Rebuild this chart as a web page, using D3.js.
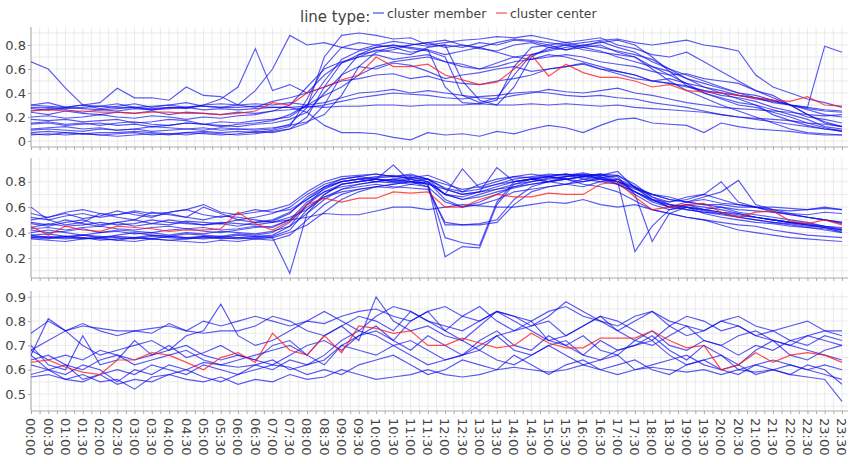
<!DOCTYPE html>
<html><head><meta charset="utf-8">
<script src="https://cdn.jsdelivr.net/npm/d3@7"></script>
<style>
body{margin:0;background:#fff}
text{font-family:"DejaVu Sans",Verdana,sans-serif}
</style></head>
<body><svg id="chart" width="850" height="464"></svg>
<script>
// ---------- data ----------
const times = ["00:00","00:30","01:00","01:30","02:00","02:30","03:00","03:30","04:00","04:30","05:00","05:30",
"06:00","06:30","07:00","07:30","08:00","08:30","09:00","09:30","10:00","10:30","11:00","11:30",
"12:00","12:30","13:00","13:30","14:00","14:30","15:00","15:30","16:00","16:30","17:00","17:30",
"18:00","18:30","19:00","19:30","20:00","20:30","21:00","21:30","22:00","22:30","23:00","23:30"];

const legendLabels = ["cluster member","cluster center"];

const yTicks1 = [0,0.2,0.4,0.6,0.8];
const yTicks2 = [0.2,0.4,0.6,0.8];
const yTicks3 = [0.5,0.6,0.7,0.8,0.9];

const center1 = [.25,.26,.25,.25,.24,.24,.23,.24, .24,.23,.23,.22,.23,.25,.32,.30, .40,.45,.51,.55,.70,.62,.62,.64, .55,.51,.47,.49,.60,.72,.54,.64, .57,.53,.53,.50,.45,.47,.42,.41, .40,.38,.36,.34,.33,.37,.30,.29];
const members1 = [
[.07,.08,.07,.06,.07,.07,.08,.07, .06,.07,.08,.07,.08,.07,.09,.12, .35,.62,.78,.82,.80,.83,.81,.79, .80,.78,.82,.80,.84,.83,.80,.82, .79,.83,.78,.74,.66,.60,.52,.45, .40,.35,.30,.22,.17,.13,.10,.08],
[.05,.06,.05,.06,.05,.04,.05,.06, .05,.07,.06,.05,.06,.08,.07,.10, .15,.30,.55,.72,.78,.80,.78,.76, .45,.32,.31,.34,.62,.78,.80,.76, .78,.80,.74,.70,.62,.55,.48,.40, .36,.32,.30,.26,.22,.18,.12,.10],
[.09,.10,.09,.08,.10,.09,.10,.08, .09,.10,.11,.09,.10,.09,.10,.14, .28,.70,.88,.90,.88,.85,.86,.80, .82,.84,.85,.87,.86,.88,.85,.82, .84,.86,.80,.77,.72,.70,.74,.66, .58,.50,.42,.36,.30,.22,.15,.12],
[.14,.15,.13,.14,.15,.13,.14,.12, .13,.15,.14,.13,.12,.14,.15,.18, .24,.40,.55,.62,.60,.65,.63,.58, .52,.55,.57,.60,.62,.58,.60,.62, .65,.60,.58,.55,.50,.48,.45,.42, .38,.36,.33,.28,.25,.20,.18,.15],
[.18,.17,.18,.16,.17,.18,.15,.16, .18,.17,.14,.16,.15,.17,.18,.20, .30,.50,.68,.75,.78,.80,.77,.75, .70,.38,.32,.36,.55,.72,.75,.78, .80,.82,.84,.80,.70,.58,.46,.40, .35,.30,.28,.24,.20,.15,.11,.08],
[.28,.28,.27,.28,.29,.28,.28,.27, .28,.28,.29,.28,.28,.29,.28,.28, .29,.28,.29,.29,.30,.30,.29,.30, .30,.30,.31,.30,.30,.31,.30,.31, .30,.29,.30,.28,.27,.26,.25,.24, .22,.20,.19,.18,.17,.15,.14,.12],
[.24,.22,.25,.23,.22,.24,.23,.25, .22,.24,.23,.22,.24,.23,.25,.26, .28,.30,.33,.36,.38,.40,.39,.38, .36,.35,.37,.38,.40,.41,.40,.38, .37,.38,.36,.35,.32,.30,.28,.25, .22,.20,.18,.16,.14,.12,.10,.09],
[.30,.32,.28,.30,.27,.29,.31,.28, .30,.32,.29,.28,.30,.31,.30,.32, .30,.32,.36,.40,.41,.43,.40,.42, .40,.38,.36,.35,.38,.40,.43,.41, .40,.42,.44,.40,.38,.35,.32,.30, .28,.27,.26,.25,.24,.22,.21,.22],
[.66,.60,.44,.30,.32,.44,.36,.36, .34,.45,.38,.37,.30,.28,.33,.36, .40,.45,.50,.52,.55,.56,.52,.54, .50,.48,.47,.50,.52,.55,.60,.62, .64,.60,.56,.52,.50,.48,.46,.42, .40,.38,.35,.33,.30,.28,.26,.25],
[.25,.27,.26,.24,.26,.25,.27,.26, .28,.27,.30,.35,.45,.77,.42,.47, .40,.55,.65,.72,.75,.78,.80,.82, .78,.80,.77,.75,.80,.82,.78,.76, .80,.78,.75,.72,.68,.60,.55,.50, .45,.40,.38,.34,.30,.27,.25,.24],
[.30,.29,.28,.30,.29,.31,.28,.29, .30,.28,.30,.31,.30,.42,.60,.88, .80,.82,.78,.76,.80,.78,.74,.76, .72,.75,.78,.74,.70,.72,.76,.80, .78,.75,.70,.66,.62,.58,.52,.48, .44,.40,.36,.32,.30,.26,.22,.20],
[.27,.26,.28,.27,.26,.27,.28,.26, .27,.28,.26,.27,.26,.27,.28,.28, .24,.13,.07,.07,.06,.03,.01,.07, .05,.06,.04,.08,.06,.10,.13,.11, .07,.13,.18,.19,.15,.14,.13,.07, .15,.12,.10,.09,.08,.06,.05,.05],
[.10,.11,.12,.10,.11,.09,.10,.12, .11,.10,.09,.11,.10,.10,.11,.13, .16,.22,.38,.62,.74,.76,.80,.82, .84,.80,.78,.82,.85,.84,.82,.80, .82,.84,.85,.82,.80,.82,.84,.80, .78,.75,.55,.45,.40,.35,.32,.28],
[.20,.21,.19,.20,.22,.20,.19,.21, .20,.18,.20,.19,.21,.22,.25,.30, .45,.60,.66,.70,.72,.68,.70,.72, .66,.62,.60,.65,.70,.68,.72,.70, .66,.62,.58,.55,.50,.52,.48,.45, .42,.38,.36,.34,.30,.28,.79,.74],
[.06,.05,.07,.06,.05,.06,.07,.05, .06,.05,.07,.06,.05,.06,.08,.10, .20,.45,.65,.70,.76,.74,.72,.78, .80,.50,.34,.30,.45,.70,.78,.80, .76,.74,.72,.70,.60,.50,.42,.36, .30,.25,.20,.15,.10,.07,.06,.05],
[.15,.16,.14,.15,.13,.15,.16,.14, .13,.15,.14,.12,.14,.15,.17,.22, .30,.38,.45,.55,.62,.66,.68,.70, .66,.64,.60,.62,.66,.68,.70,.72, .70,.66,.64,.62,.58,.55,.56,.52, .50,.48,.42,.38,.30,.22,.16,.12]
];

const center2 = [.45,.38,.45,.42,.41,.45,.44,.43, .41,.42,.42,.43,.56,.47,.42,.49, .62,.67,.64,.67,.67,.72,.71,.72, .60,.60,.66,.70,.68,.68,.71,.70, .70,.78,.80,.68,.58,.60,.62,.63, .56,.52,.56,.57,.49,.47,.50,.46];
const members2 = [
[.38,.36,.37,.35,.36,.37,.36,.38, .37,.36,.37,.35,.36,.37,.38,.45, .62,.75,.80,.82,.83,.84,.85,.82, .75,.72,.78,.82,.84,.83,.85,.86, .84,.86,.82,.72,.65,.62,.60,.58, .56,.55,.52,.50,.48,.46,.44,.42],
[.37,.36,.35,.36,.34,.35,.36,.35, .34,.35,.36,.37,.36,.35,.36,.08, .55,.70,.78,.80,.82,.80,.78,.80, .70,.66,.68,.72,.75,.78,.80,.82, .84,.85,.88,.75,.66,.60,.62,.58, .60,.56,.54,.52,.50,.48,.45,.42],
[.48,.46,.50,.47,.45,.48,.50,.47, .46,.49,.48,.47,.50,.48,.49,.55, .68,.76,.80,.82,.84,.85,.82,.78, .21,.29,.28,.62,.78,.82,.80,.84, .86,.82,.78,.70,.62,.58,.60,.55, .52,.50,.48,.47,.45,.44,.43,.41],
[.52,.50,.53,.55,.52,.54,.56,.53, .55,.52,.50,.53,.52,.50,.48,.50, .52,.55,.54,.54,.57,.60,.60,.58, .60,.62,.61,.60,.60,.62,.64,.63, .66,.62,.60,.62,.58,.55,.52,.50, .48,.46,.45,.42,.40,.38,.37,.36],
[.60,.50,.46,.48,.55,.52,.50,.56, .54,.52,.60,.55,.50,.52,.55,.60, .70,.78,.82,.84,.86,.84,.83,.85, .80,.72,.74,.78,.82,.84,.86,.85, .87,.84,.80,.75,.70,.66,.64,.62, .60,.58,.57,.56,.55,.54,.56,.55],
[.42,.40,.41,.43,.40,.42,.41,.40, .42,.43,.41,.40,.42,.44,.45,.50, .64,.72,.78,.80,.82,.93,.80,.78, .36,.32,.30,.64,.80,.82,.84,.82, .80,.83,.85,.78,.68,.62,.58,.56, .55,.53,.52,.50,.48,.47,.45,.44],
[.44,.47,.45,.46,.48,.46,.47,.50, .48,.47,.46,.48,.47,.46,.48,.52, .58,.68,.74,.76,.78,.76,.75,.74, .48,.46,.46,.48,.62,.72,.76,.78, .80,.82,.80,.76,.70,.66,.64,.62, .62,.60,.60,.58,.57,.58,.59,.58],
[.55,.52,.56,.58,.55,.54,.57,.55, .56,.58,.62,.56,.54,.56,.58,.62, .72,.80,.84,.85,.86,.84,.86,.82, .74,.70,.72,.76,.80,.82,.84,.86, .85,.83,.80,.72,.66,.64,.68,.70, .66,.62,.60,.57,.54,.52,.50,.48],
[.36,.35,.37,.36,.35,.34,.36,.35, .37,.36,.35,.36,.35,.36,.37,.42, .58,.70,.78,.80,.82,.81,.80,.79, .70,.66,.70,.74,.78,.80,.83,.84, .85,.86,.80,.25,.45,.58,.62,.60, .58,.55,.52,.50,.48,.46,.44,.40],
[.40,.42,.40,.38,.40,.41,.39,.40, .38,.40,.39,.41,.40,.39,.41,.45, .55,.66,.74,.78,.80,.79,.82,.80, .66,.60,.64,.70,.76,.80,.82,.84, .86,.85,.84,.70,.33,.55,.60,.57, .55,.52,.50,.48,.47,.45,.44,.42],
[.35,.34,.33,.35,.36,.34,.33,.35, .34,.33,.32,.34,.33,.35,.34,.38, .50,.62,.70,.74,.76,.78,.80,.78, .74,.70,.72,.74,.76,.78,.80,.82, .78,.76,.72,.65,.58,.55,.52,.50, .46,.42,.40,.38,.36,.35,.34,.33],
[.47,.45,.48,.50,.46,.48,.45,.47, .50,.48,.46,.47,.45,.48,.50,.56, .66,.74,.80,.82,.80,.82,.84,.80, .70,.68,.72,.91,.80,.82,.80,.78, .82,.84,.78,.72,.66,.60,.64,.68, .72,.81,.62,.58,.55,.52,.50,.48],
[.38,.39,.37,.38,.36,.38,.40,.38, .37,.39,.38,.37,.39,.38,.40,.48, .62,.72,.76,.78,.80,.82,.80,.76, .46,.46,.47,.50,.66,.76,.80,.82, .84,.82,.80,.74,.70,.68,.64,.66, .63,.62,.60,.60,.59,.58,.60,.58],
[.50,.52,.55,.51,.53,.57,.54,.52, .56,.58,.54,.52,.55,.58,.56,.58, .66,.76,.82,.84,.82,.80,.83,.82, .78,.74,.76,.80,.84,.86,.84,.82, .84,.86,.85,.76,.68,.64,.66,.70, .80,.64,.60,.56,.54,.52,.50,.47],
[.36,.37,.36,.38,.37,.36,.35,.37, .36,.35,.37,.36,.38,.37,.36,.40, .46,.56,.66,.72,.76,.78,.80,.82, .70,.90,.75,.78,.80,.82,.84,.86, .82,.80,.78,.72,.64,.60,.58,.56, .54,.52,.50,.48,.46,.44,.42,.40],
[.43,.44,.42,.44,.45,.43,.42,.44, .45,.43,.44,.42,.43,.45,.44,.50, .60,.68,.72,.74,.76,.75,.78,.76, .64,.60,.62,.66,.72,.74,.76,.78, .76,.80,.82,.76,.66,.62,.60,.58, .56,.54,.52,.50,.48,.46,.45,.43]
];

const center3 = [.63,.64,.61,.59,.58,.64,.64,.67, .66,.63,.60,.65,.67,.63,.75,.68, .66,.74,.67,.78,.77,.75,.76,.70, .70,.73,.71,.69,.70,.75,.71,.69, .69,.73,.73,.73,.76,.72,.69,.70, .60,.62,.67,.63,.66,.67,.66,.63];
const members3 = [
[.75,.80,.76,.78,.77,.76,.76,.77, .78,.76,.80,.78,.80,.82,.80,.78, .80,.79,.82,.84,.85,.82,.80,.84, .86,.82,.80,.84,.82,.80,.84,.86, .82,.80,.78,.82,.84,.80,.78,.76, .80,.82,.78,.76,.78,.80,.76,.74],
[.70,.62,.60,.74,.62,.64,.72,.66, .70,.65,.67,.70,.66,.64,.70,.72, .66,.62,.70,.74,.78,.72,.68,.74, .70,.66,.72,.76,.70,.68,.74,.70, .66,.72,.68,.70,.74,.68,.64,.70, .66,.62,.68,.72,.66,.64,.68,.70],
[.57,.58,.56,.55,.58,.54,.56,.55, .58,.56,.55,.57,.54,.56,.55,.58, .56,.57,.60,.58,.56,.57,.58,.60, .58,.57,.58,.60,.61,.60,.59,.60, .62,.60,.58,.60,.61,.60,.59,.60, .58,.60,.59,.60,.58,.57,.56,.47],
[.66,.60,.58,.62,.60,.55,.60,.58, .62,.60,.63,.62,.61,.62,.60,.64, .62,.66,.72,.76,.74,.70,.66,.62, .64,.66,.68,.64,.62,.66,.70,.72, .66,.64,.68,.70,.72,.66,.62,.64, .66,.60,.62,.64,.62,.60,.62,.60],
[.68,.72,.76,.70,.66,.68,.70,.72, .68,.74,.76,.87,.74,.70,.72,.76, .80,.84,.80,.76,.82,.86,.84,.80, .76,.82,.86,.80,.76,.78,.82,.88, .84,.80,.76,.80,.84,.78,.74,.76, .80,.78,.74,.72,.70,.74,.72,.70],
[.64,.66,.62,.60,.64,.66,.62,.64, .66,.68,.64,.62,.64,.66,.68,.70, .66,.74,.78,.72,.90,.80,.76,.78, .74,.72,.78,.84,.80,.76,.72,.74, .78,.82,.76,.72,.70,.74,.78,.72, .70,.74,.76,.72,.70,.68,.66,.64],
[.62,.60,.56,.58,.55,.56,.52,.57, .58,.60,.57,.55,.58,.60,.62,.61, .58,.60,.58,.62,.64,.66,.62,.58, .60,.64,.62,.60,.66,.62,.58,.62, .64,.60,.62,.64,.60,.58,.62,.64, .60,.58,.62,.60,.58,.62,.60,.54],
[.66,.81,.76,.79,.76,.74,.76,.75, .79,.76,.75,.76,.76,.78,.82,.80, .76,.74,.78,.82,.80,.76,.84,.80, .78,.76,.80,.84,.82,.78,.80,.74, .78,.82,.80,.76,.72,.78,.82,.80, .76,.78,.74,.76,.72,.74,.76,.76],
[.68,.64,.66,.64,.68,.66,.64,.66, .68,.70,.66,.64,.66,.64,.62,.66, .70,.72,.68,.74,.76,.72,.80,.84, .76,.72,.68,.74,.76,.80,.72,.70, .74,.68,.66,.72,.76,.70,.68,.72, .70,.66,.70,.68,.72,.70,.74,.72],
[.58,.60,.62,.56,.58,.60,.58,.62, .60,.58,.62,.60,.58,.62,.64,.60, .62,.64,.70,.68,.66,.70,.72,.68, .64,.66,.70,.74,.68,.66,.70,.66, .62,.64,.66,.60,.62,.64,.66,.62, .60,.62,.58,.60,.62,.60,.58,.56]
];

// ---------- layout ----------
const svg = d3.select("#chart");
const W = 850;
const left = 31, right = 848;
const x = d3.scaleLinear().domain([0, 47.35]).range([left, right]);

const panels = [
  {center: center1, members: members1, ticks: yTicks1, domain: [-0.05, 0.95], top: 27, bottom: 147, minorStep: 0.1},
  {center: center2, members: members2, ticks: yTicks2, domain: [0.043, 0.986], top: 158, bottom: 278, minorStep: 0.1},
  {center: center3, members: members3, ticks: yTicks3, domain: [0.43, 0.924], top: 291, bottom: 411, minorStep: 0.05}
];

const gridIdx = d3.range(0, 47.6, 0.5);

panels.forEach((p, pi) => {
  const y = d3.scaleLinear().domain(p.domain).range([p.bottom, p.top]);
  const g = svg.append("g");
  // clip
  const clipId = "clip" + pi;
  svg.append("clipPath").attr("id", clipId).append("rect")
    .attr("x", left).attr("y", p.top).attr("width", right - left).attr("height", p.bottom - p.top);

  // grid - vertical
  g.append("g").selectAll("line").data(gridIdx).join("line")
    .attr("x1", d => x(d)).attr("x2", d => x(d))
    .attr("y1", p.top).attr("y2", p.bottom)
    .attr("stroke", "#ebebeb").attr("stroke-width", 1);
  // grid - horizontal
  const hLines = d3.range(Math.ceil(p.domain[0] / p.minorStep) * p.minorStep, p.domain[1], p.minorStep);
  g.append("g").selectAll("line").data(hLines).join("line")
    .attr("x1", left).attr("x2", right)
    .attr("y1", d => y(d)).attr("y2", d => y(d))
    .attr("stroke", "#ebebeb").attr("stroke-width", 1);

  // y axis
  const yAxis = d3.axisLeft(y).tickValues(p.ticks).tickFormat(d => String(+d.toFixed(2))).tickSize(3).tickPadding(2);
  const ya = g.append("g").attr("transform", `translate(${left},0)`).call(yAxis);
  ya.select(".domain").attr("stroke", "#aaa").attr("d", `M-0,${p.top}V${p.bottom}`);
  ya.selectAll(".tick line").attr("stroke", "#aaa");
  ya.selectAll(".tick text").attr("fill", "#444").style("font-size", "13px")
    .style("font-family", '"DejaVu Sans",Verdana,sans-serif');

  // x axis
  const xAxis = d3.axisBottom(x).tickValues(gridIdx).tickSize(3).tickFormat("");
  const xa = g.append("g").attr("transform", `translate(0,${p.bottom})`).call(xAxis);
  xa.select(".domain").attr("stroke", "#aaa").attr("d", `M${left},0H${right}`);
  xa.selectAll(".tick line").attr("stroke", "#aaa");

  // lines
  const line = d3.line().x((d, i) => x(i)).y(d => y(d));
  const lg = g.append("g").attr("clip-path", `url(#${clipId})`);
  lg.selectAll("path.member").data(p.members).join("path")
    .attr("class", "member")
    .attr("d", line)
    .attr("fill", "none").attr("stroke", "rgb(10,10,235)").attr("stroke-opacity", 0.68).attr("stroke-width", 1.15);
  lg.append("path").datum(p.center)
    .attr("d", line)
    .attr("fill", "none").attr("stroke", "rgb(255,20,20)").attr("stroke-opacity", 0.75).attr("stroke-width", 1.2);

  // x tick labels on last panel
  if (pi === panels.length - 1) {
    const lab = g.append("g");
    lab.selectAll("text").data(times).join("text")
      .attr("transform", (d, i) => `translate(${x(i)},${p.bottom + 7}) rotate(90)`)
      .attr("dy", "0.36em")
      .attr("text-anchor", "start")
      .attr("fill", "#444")
      .style("font-size", "13px")
      .text(d => d);
  }
});

// legend
const leg = svg.append("g");
leg.append("text").attr("x", 300).attr("y", 22).attr("fill", "#444").style("font-size", "15px").text("line type:");
const legColors = ["rgb(10,10,235)", "rgb(255,20,20)"];
const legX = [373, 496];
legendLabels.forEach((lbl, i) => {
  leg.append("line").attr("x1", legX[i]).attr("x2", legX[i] + 11).attr("y1", 13).attr("y2", 13)
    .attr("stroke", legColors[i]).attr("stroke-opacity", 0.75).attr("stroke-width", 1.2);
  leg.append("text").attr("x", legX[i] + 14).attr("y", 18).attr("fill", "#444").style("font-size", "12.5px").text(lbl);
});
</script>
</body></html>
